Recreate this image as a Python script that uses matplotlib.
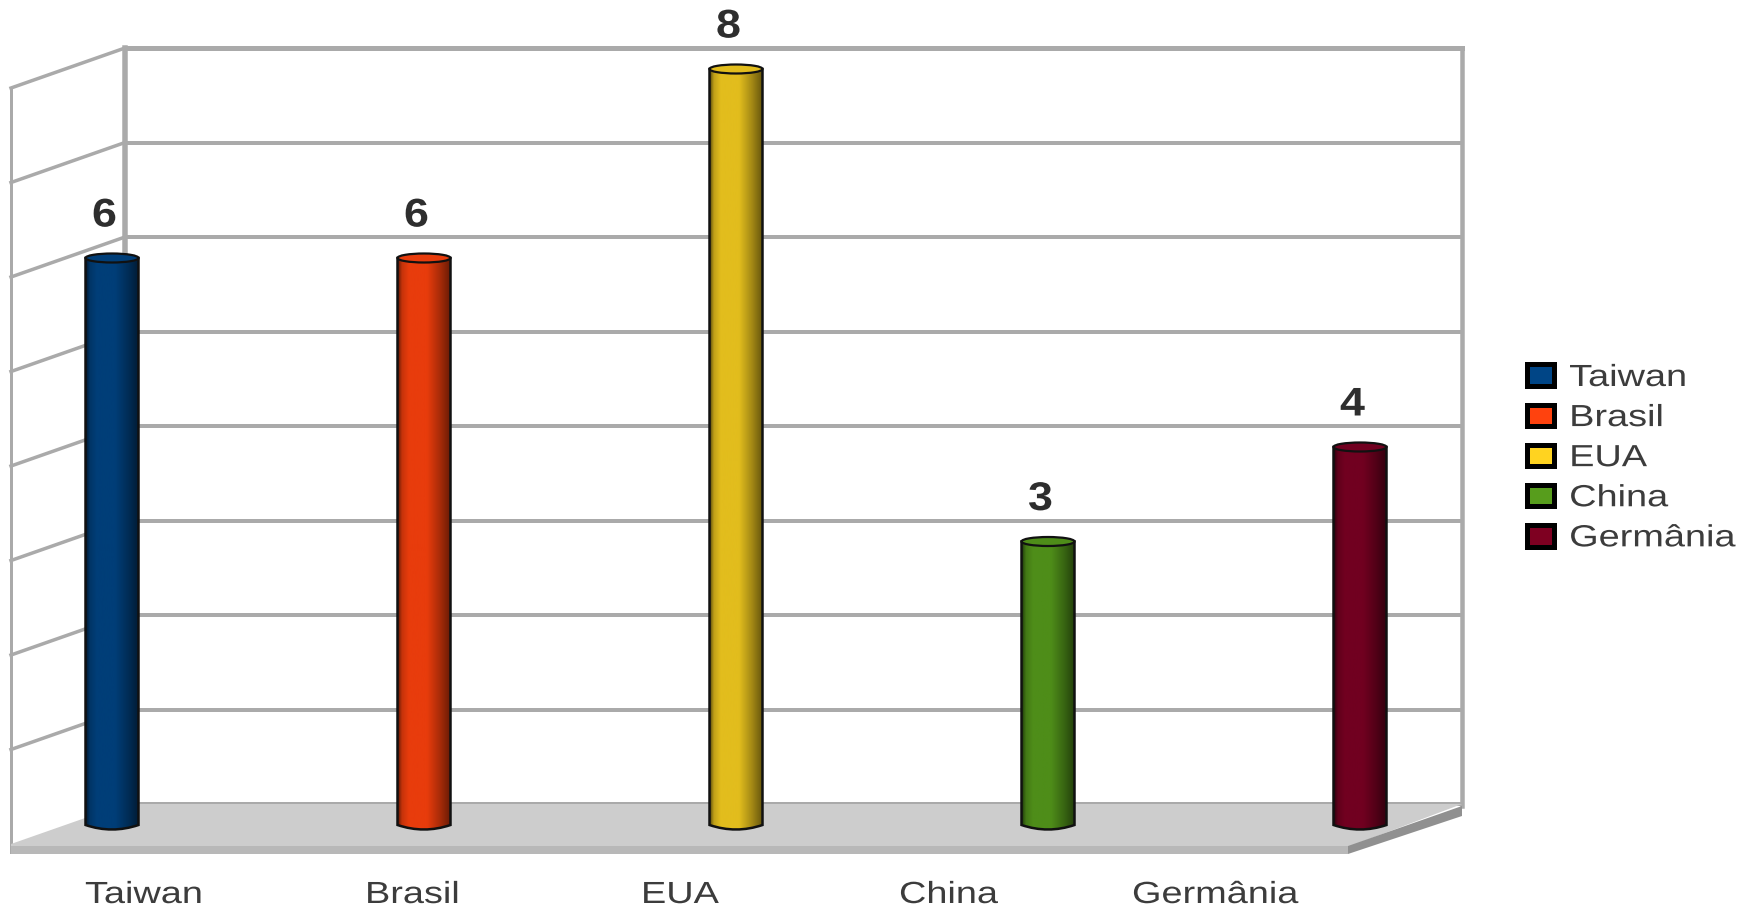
import matplotlib
matplotlib.use('Agg')
import matplotlib.pyplot as plt
import numpy as np
from matplotlib.patches import Ellipse, PathPatch, Patch, Polygon
from matplotlib.patheffects import AbstractPathEffect
from matplotlib.path import Path
from matplotlib.transforms import Affine2D

categories = ['Taiwan', 'Brasil', 'EUA', 'China', 'Germânia']
values = [6, 6, 8, 3, 4]
colors = ['#004586', '#ff420e', '#ffd320', '#579d1c', '#7e0021']
bar_colors = ['#003e78', '#e83c0c', '#e2bd1d', '#4e8d19', '#710020']
wall_ticks = [0, 1, 2, 3, 4, 5, 6, 7, 8]
label_left = [85, 365, 641, 899, 1132]

W, H = 1746, 911
X0, DX = 112, 312      # pixel position of first bar, bar spacing
Y0, DY = 825, 94.5     # pixel position of value 0, pixels per unit
BAR_W = 53 / DX
CAP_H = 9 / DY
WALL = '#aaaaaa'
plt.rcParams['font.family'] = ['Liberation Sans', 'DejaVu Sans']


class StretchX(AbstractPathEffect):
    # the text is wide in this layout, no installed font has the proportions
    def __init__(self, sx):
        super().__init__()
        self.sx = sx

    def draw_path(self, renderer, gc, tpath, affine, rgbFace=None):
        renderer.draw_path(gc, tpath, Affine2D().scale(self.sx, 1) + affine, rgbFace)


stretch = [StretchX(1.24)]
stretch_bold = [StretchX(1.12)]

fig = plt.figure(figsize=(W / 100, H / 100), dpi=100)
ax = fig.add_axes([0, 0, 1, 1])
ax.set_xlim(-X0 / DX, (W - X0) / DX)
ax.set_ylim((Y0 - H) / DY, Y0 / DY)
ax.axis('off')

# pixel coordinates, y downwards, for the box around the plot
px = Affine2D().scale(1 / W, -1 / H).translate(0, 1) + fig.transFigure


def box_line(xs, ys, lw, z=1):
    ax.plot(xs, ys, color=WALL, lw=lw * 0.72, transform=px, zorder=z,
            solid_capstyle='projecting', clip_on=False)


# floor
ax.add_patch(Polygon([(11, 844), (125, 804), (1462, 804), (1348, 847), (11, 847)],
                     fc='#cdcdcd', ec='none', transform=px, zorder=2))
ax.add_patch(Polygon([(11, 846), (1348, 846), (1348, 854), (11, 854)],
                     fc='#b8b8b8', ec='none', transform=px, zorder=2))
ax.add_patch(Polygon([(1348, 846), (1462, 806), (1462, 816), (1348, 854)],
                     fc='#909090', ec='none', transform=px, zorder=2))

# back wall and side wall
for t in wall_ticks:
    y = 804 - 94.5 * t
    box_line([125, 1462], [y, y], 5 if t == 8 else 4)
    if t > 0:
        box_line([11, 125], [y + 40, y], 3.5)
box_line([125, 125], [48, 804], 5.5)
box_line([1462, 1462], [48, 806], 4.5)
box_line([11, 11], [88, 852], 3)

# cylinders: shaded body clipped to the outline, then the cap
shade_x = np.array([0, 0.07, 0.2, 0.55, 0.8, 1])
shade_v = np.array([0.45, 0.85, 1, 1, 0.72, 0.45])
grad = np.interp(np.linspace(0, 1, 80), shade_x, shade_v)[None, :, None]

for i, (v, c) in enumerate(zip(values, bar_colors)):
    l, r = i - BAR_W / 2, i + BAR_W / 2
    outline = Path([(l, v), (l, 0), (i, -CAP_H), (r, 0), (r, v), (l, v)],
                   [Path.MOVETO, Path.LINETO, Path.CURVE3, Path.CURVE3, Path.LINETO, Path.CLOSEPOLY])
    rgb = np.array(matplotlib.colors.to_rgb(c))[None, None, :] * grad
    im = ax.imshow(rgb, extent=(l, r, -CAP_H, v), aspect='auto', zorder=3)
    body = PathPatch(outline, fc='none', ec='#111111', lw=1.8, zorder=4)
    ax.add_patch(body)
    im.set_clip_path(body)
    ax.add_patch(Ellipse((i, v), BAR_W, CAP_H, fc=c, ec='#111111', lw=1.6, zorder=5))
    ax.annotate(str(v), (i, v), xytext=(-20, 27 + CAP_H / 2 * DY), textcoords='offset pixels',
                fontsize=28.8, fontweight='bold', color='#2e2e2e', ha='left', va='baseline',
                path_effects=stretch_bold, zorder=6)

ax.set_xlim(-X0 / DX, (W - X0) / DX)
ax.set_ylim((Y0 - H) / DY, Y0 / DY)

for name, x in zip(categories, label_left):
    ax.text(x, 903, name, transform=px, fontsize=22, color='#3c3c3c', ha='left',
            va='baseline', path_effects=stretch)

handles = [Patch(fc=c, ec='black', lw=3.6, joinstyle='round') for c in colors]
leg = ax.legend(handles, categories, loc='upper left', bbox_to_anchor=(1527 / W, 1 - 363 / H),
                bbox_transform=fig.transFigure, frameon=False, fontsize=22, borderpad=0,
                borderaxespad=0, handlelength=0.88, handleheight=0.72, handletextpad=0.5,
                labelspacing=0.33)
for t in leg.get_texts():
    t.set_color('#3c3c3c')
    t.set_path_effects(stretch)

fig.savefig('out.png', dpi=100)
